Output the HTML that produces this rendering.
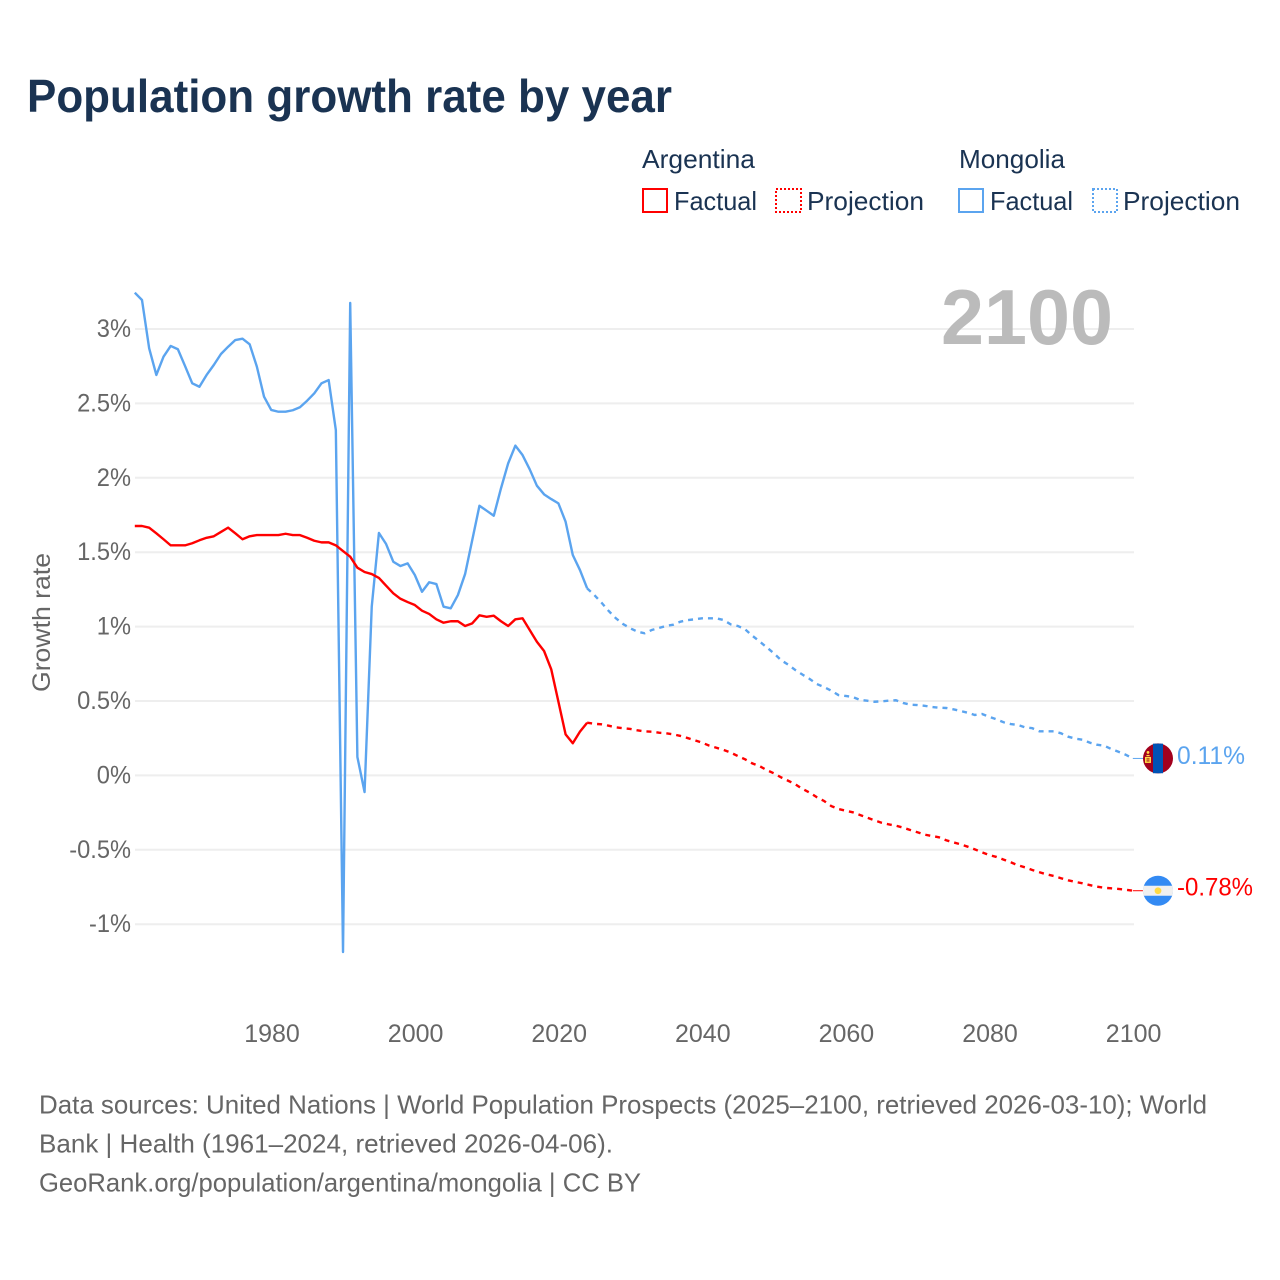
<!DOCTYPE html>
<html lang="en">
<head>
<meta charset="utf-8">
<title>Population growth rate by year</title>
<style>
html,body{margin:0;padding:0;background:#fff;}
svg{display:block;}
text{font-family:"Liberation Sans",sans-serif;}
</style>
</head>
<body>
<svg id="chart" xmlns="http://www.w3.org/2000/svg" width="1280" height="1280" viewBox="0 0 1280 1280">
  <rect x="0" y="0" width="1280" height="1280" fill="#ffffff"/>
  <text x="27" y="112" font-size="46" font-weight="700" fill="#1a3352" textLength="645" lengthAdjust="spacingAndGlyphs">Population growth rate by year</text>

  <g font-size="26" fill="#1a3352">
    <text x="642" y="168" textLength="113" lengthAdjust="spacingAndGlyphs">Argentina</text>
    <text x="959" y="168" textLength="106" lengthAdjust="spacingAndGlyphs">Mongolia</text>
    <rect x="643" y="189" width="24" height="23" fill="none" stroke="#ff0000" stroke-width="2"/>
    <text x="674" y="210" textLength="83" lengthAdjust="spacingAndGlyphs">Factual</text>
    <rect x="776" y="189" width="25" height="23" fill="none" stroke="#ff0000" stroke-width="2" stroke-dasharray="2 2"/>
    <text x="807" y="210" textLength="117" lengthAdjust="spacingAndGlyphs">Projection</text>
    <rect x="959" y="189" width="24" height="23" fill="none" stroke="#5ba4ef" stroke-width="2"/>
    <text x="990" y="210" textLength="83" lengthAdjust="spacingAndGlyphs">Factual</text>
    <rect x="1093" y="189" width="24" height="23" fill="none" stroke="#5ba4ef" stroke-width="2" stroke-dasharray="2 2"/>
    <text x="1123" y="210" textLength="117" lengthAdjust="spacingAndGlyphs">Projection</text>
  </g>

  <g id="grid"></g>
  <g id="yticks"></g>
  <g id="xticks"></g>

  <text x="941" y="344" font-size="78" font-weight="700" fill="#bbbbbb" textLength="172" lengthAdjust="spacingAndGlyphs">2100</text>
  <text transform="translate(50,692) rotate(-90)" font-size="25" fill="#666666" textLength="139" lengthAdjust="spacingAndGlyphs">Growth rate</text>

  <g id="series"></g>
  <g id="ends"></g>

  <g font-size="26" fill="#666666">
    <text x="39" y="1113.5" textLength="1168" lengthAdjust="spacingAndGlyphs">Data sources: United Nations | World Population Prospects (2025–2100, retrieved 2026-03-10); World</text>
    <text x="39" y="1152.5" textLength="574" lengthAdjust="spacingAndGlyphs">Bank | Health (1961–2024, retrieved 2026-04-06).</text>
    <text x="39" y="1191.5" textLength="602" lengthAdjust="spacingAndGlyphs">GeoRank.org/population/argentina/mongolia | CC BY</text>
  </g>
</svg>
<script>
const firstFactualYear = 1961;
const firstProjectionYear = 2024;
const yTickValues = [3, 2.5, 2, 1.5, 1, 0.5, 0, -0.5, -1];
const yTickLabels = ["3%", "2.5%", "2%", "1.5%", "1%", "0.5%", "0%", "-0.5%", "-1%"];
const xTickValues = [1980, 2000, 2020, 2040, 2060, 2080, 2100];
const xTickLabels = ["1980", "2000", "2020", "2040", "2060", "2080", "2100"];

const argentinaFactual = [
  1.676,1.676,1.665,1.627,1.587,1.546,1.546,1.546,1.560,
  1.580,1.597,1.607,1.636,1.665,1.627,1.587,1.607,1.615,1.615,
  1.615,1.615,1.624,1.615,1.615,1.597,1.577,1.566,1.566,1.546,
  1.508,1.470,1.396,1.367,1.353,1.327,1.275,1.224,1.187,1.165,
  1.145,1.107,1.085,1.049,1.026,1.036,1.036,1.004,1.022,1.076,
  1.066,1.073,1.036,1.004,1.049,1.056,0.977,0.898,0.836,0.713,
  0.495,0.276,0.216,0.294,0.354
];
const mongoliaFactual = [
  3.244,3.195,2.870,2.691,2.814,2.886,2.864,2.751,2.635,
  2.612,2.691,2.758,2.832,2.881,2.926,2.935,2.897,2.747,2.545,
  2.456,2.444,2.444,2.454,2.474,2.518,2.568,2.635,2.657,2.321,
  -1.187,3.175,0.124,-0.112,1.134,1.629,1.555,1.436,1.407,1.425,
  1.347,1.234,1.298,1.286,1.134,1.123,1.212,1.353,1.582,1.812,
  1.779,1.745,1.929,2.097,2.216,2.153,2.057,1.947,1.889,1.857,
  1.828,1.705,1.481,1.380,1.257
];
const argentinaProjection = [
  0.354,
  0.347,0.343,0.334,0.323,0.317,
  0.312,0.303,0.296,0.294,0.287,0.283,0.276,0.265,0.251,0.236,
  0.220,0.200,0.186,0.171,0.153,0.130,0.108,0.081,0.063,0.036,
  0.014,-0.013,-0.036,-0.060,-0.091,-0.116,-0.147,-0.172,-0.206,-0.226,
  -0.237,-0.248,-0.266,-0.284,-0.302,-0.318,-0.329,-0.338,-0.351,-0.367,
  -0.382,-0.398,-0.407,-0.416,-0.436,-0.450,-0.463,-0.479,-0.497,-0.517,
  -0.535,-0.548,-0.566,-0.584,-0.604,-0.618,-0.636,-0.651,-0.665,-0.676,
  -0.691,-0.705,-0.716,-0.725,-0.737,-0.748,-0.755,-0.759,-0.763,-0.768,
  -0.775
];
const mongoliaProjection = [
  1.257,
  1.212,1.161,1.105,1.056,1.017,
  0.989,0.966,0.955,0.977,0.991,1.004,1.013,1.033,1.044,1.049,
  1.056,1.056,1.056,1.044,1.015,1.004,0.982,0.939,0.901,0.861,
  0.821,0.775,0.744,0.708,0.677,0.648,0.614,0.594,0.569,0.540,
  0.534,0.527,0.507,0.502,0.495,0.498,0.502,0.505,0.487,0.475,
  0.473,0.468,0.460,0.455,0.453,0.444,0.433,0.421,0.406,0.413,
  0.394,0.377,0.357,0.345,0.339,0.323,0.317,0.296,0.296,0.296,
  0.283,0.260,0.247,0.240,0.220,0.206,0.200,0.177,0.159,0.139,
  0.114
];
const argentinaEndLabel = "-0.78%";
const mongoliaEndLabel = "0.11%";

const NS = "http://www.w3.org/2000/svg";
const RED = "#ff0000";
const BLUE = "#5ba4ef";
const LINE_WIDTH = 2.4;
function xScale(year) { return 134.8 + (year - 1961) * 7.18; }
function yScale(value) { return 775.4 - value * 148.8; }
function make(tag, attrs, parent) {
  const el = document.createElementNS(NS, tag);
  for (const k in attrs) el.setAttribute(k, attrs[k]);
  parent.appendChild(el);
  return el;
}

const gridLayer = document.getElementById("grid");
const yTickLayer = document.getElementById("yticks");
yTickValues.forEach(function (v, i) {
  const line = make("line", { x1: 135, x2: 1134, y1: yScale(v), y2: yScale(v), stroke: "#eeeeee", "stroke-width": 2 }, gridLayer);
  
  
  const t = make("text", { x: 131, y: yScale(v) + 8, "text-anchor": "end", "font-size": 25, fill: "#666666" }, yTickLayer);
  t.textContent = yTickLabels[i];
  t.setAttribute("textLength", (t.getComputedTextLength() * 0.945).toFixed(1));
  t.setAttribute("lengthAdjust", "spacingAndGlyphs");
  
  
});

const xTickLayer = document.getElementById("xticks");
xTickValues.forEach(function (v, i) {
  const t = make("text", { x: xScale(v) + 0.8, y: 1042, "text-anchor": "middle", "font-size": 25, fill: "#666666" }, xTickLayer);
  t.textContent = xTickLabels[i];
  
  
});

function pointsFor(values, startYear) {
  return values.map(function (v, i) {
    return xScale(startYear + i).toFixed(2) + "," + yScale(v).toFixed(2);
  }).join(" ");
}

const seriesLayer = document.getElementById("series");
const mongoliaFactualLine = make("polyline", { points: pointsFor(mongoliaFactual, firstFactualYear), fill: "none", stroke: BLUE, "stroke-width": LINE_WIDTH, "stroke-linejoin": "round" }, seriesLayer);


const mongoliaProjectionLine = make("polyline", { points: pointsFor(mongoliaProjection, firstProjectionYear), fill: "none", stroke: BLUE, "stroke-width": LINE_WIDTH, "stroke-dasharray": "5 5" }, seriesLayer);


const argentinaFactualLine = make("polyline", { points: pointsFor(argentinaFactual, firstFactualYear), fill: "none", stroke: RED, "stroke-width": LINE_WIDTH, "stroke-linejoin": "round" }, seriesLayer);


const argentinaProjectionLine = make("polyline", { points: pointsFor(argentinaProjection, firstProjectionYear), fill: "none", stroke: RED, "stroke-width": LINE_WIDTH, "stroke-dasharray": "5 5" }, seriesLayer);



const endLayer = document.getElementById("ends");
const lastYear = firstProjectionYear + mongoliaProjection.length - 1;
const flagX = 1158;
const mongoliaY = yScale(mongoliaProjection[mongoliaProjection.length - 1]);
const argentinaY = yScale(argentinaProjection[argentinaProjection.length - 1]);

const mongoliaLeader = make("line", { x1: xScale(lastYear), x2: flagX - 15, y1: mongoliaY, y2: mongoliaY, stroke: BLUE, "stroke-width": 1 }, endLayer);


const argentinaLeader = make("line", { x1: xScale(lastYear), x2: flagX - 15, y1: argentinaY, y2: argentinaY, stroke: RED, "stroke-width": 1 }, endLayer);



// Mongolia flag
const mongoliaFlag = make("g", { transform: "translate(" + flagX + "," + mongoliaY + ")" }, endLayer);


make("circle", { r: 15, fill: "#a2001d" }, mongoliaFlag);
make("rect", { x: -5, y: -14.8, width: 10, height: 29.6, fill: "#0052b4" }, mongoliaFlag);
make("circle", { cx: -10, cy: -6, r: 1.4, fill: "#ffda44" }, mongoliaFlag);
make("rect", { x: -11.6, y: -3.5, width: 3.2, height: 1.2, fill: "#ffda44" }, mongoliaFlag);
make("rect", { x: -13, y: -1.5, width: 6, height: 6, fill: "#ffda44" }, mongoliaFlag);
make("rect", { x: -11.5, y: 0, width: 3, height: 1, fill: "#a2001d" }, mongoliaFlag);
make("rect", { x: -11.5, y: 2, width: 3, height: 1, fill: "#a2001d" }, mongoliaFlag);

// Argentina flag
const argentinaFlag = make("g", { transform: "translate(" + flagX + "," + argentinaY + ")" }, endLayer);


make("circle", { r: 15, fill: "#338af3" }, argentinaFlag);
make("path", { d: "M-14.2,-5 H14.2 A15,15 0 0 1 14.2,5 H-14.2 A15,15 0 0 1 -14.2,-5 Z", fill: "#f0f0f0" }, argentinaFlag);
make("circle", { r: 3.4, fill: "#ffda44" }, argentinaFlag);

const mongoliaLabel = make("text", { x: 1177, y: mongoliaY + 5.5, "font-size": 25, fill: BLUE, textLength: 68, lengthAdjust: "spacingAndGlyphs" }, endLayer);
mongoliaLabel.textContent = mongoliaEndLabel;


const argentinaLabel = make("text", { x: 1177, y: argentinaY + 5, "font-size": 25, fill: RED, textLength: 76, lengthAdjust: "spacingAndGlyphs" }, endLayer);
argentinaLabel.textContent = argentinaEndLabel;


</script>
</body>
</html>
